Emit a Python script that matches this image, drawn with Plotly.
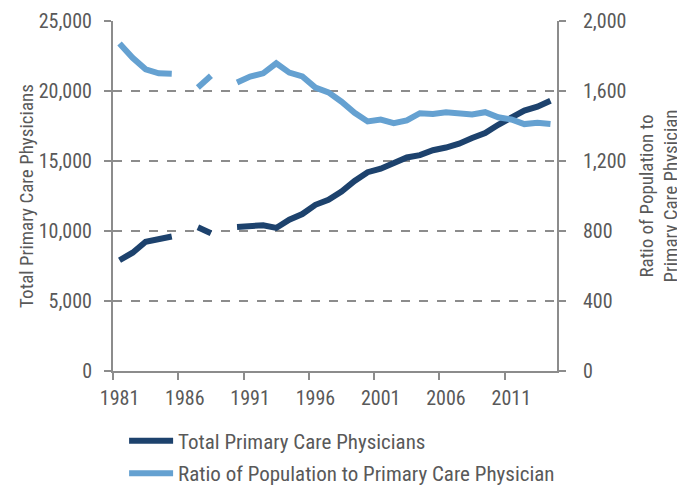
import plotly.graph_objects as go

years = list(range(1981, 2015))
total_pcp = [7910, 8450, 9230, 9470, 9610, None, 10270, 9840, None, 10290,
             10320, 10410, 10220, 10810, 11210, 11870, 12230, 12820, 13580, 14200,
             14450, 14820, 15250, 15420, 15770, 15960, 16240, 16640, 17000, 17590,
             18130, 18600, 18880, 19310]
ratio = [1871, 1790, 1724, 1701, 1698, None, 1620, 1687, None, 1649,
         1683, 1701, 1758, 1705, 1683, 1620, 1592, 1539, 1475, 1426,
         1437, 1416, 1432, 1473, 1469, 1479, 1475, 1466, 1479, 1450,
         1437, 1411, 1418, 1411]
left_ticks = [0, 5000, 10000, 15000, 20000, 25000]
right_ticks = [0, 400, 800, 1200, 1600, 2000]
x_ticks = [1981, 1986, 1991, 1996, 2001, 2006, 2011]

FONT = "Roboto Condensed, Liberation Sans Narrow, sans-serif"
TXT = "#595959"
DARK = "#1d426d"
LIGHT = "#65a1d1"
GRID = "#8c8c8c"

fig = go.Figure()
fig.add_trace(go.Scatter(x=years, y=total_pcp, mode="lines", name="Total Primary Care Physicians",
                         line=dict(color=DARK, width=6), connectgaps=False, legendgroup="a"))
fig.add_trace(go.Scatter(x=years, y=ratio, mode="lines", name="Ratio of Population to Primary Care Physician",
                         line=dict(color=LIGHT, width=6), connectgaps=False, yaxis="y2", legendgroup="b"))

fig.update_layout(
    width=677, height=480,
    margin=dict(l=105, r=128, t=13, b=117, autoexpand=False),
    plot_bgcolor="white", paper_bgcolor="white",
    font=dict(family=FONT, size=20, color=TXT),
    showlegend=True,
    legend=dict(x=0.025, y=-0.142, xanchor="left", yanchor="top", orientation="v",
                font=dict(size=21, color=TXT), tracegroupgap=2, itemwidth=44,
                bgcolor="rgba(0,0,0,0)"),
    xaxis=dict(range=[1980.5, 2014.5], tickmode="array", tickvals=x_ticks,
               ticktext=[str(v) for v in x_ticks], ticks="outside", ticklen=8,
               tickcolor="rgba(0,0,0,0)", showgrid=False, automargin=False,
               ticklabeloverflow="allow",
               showline=True, linecolor=GRID, linewidth=2, zeroline=False,
               tickfont=dict(size=20, color=TXT),
               minor=dict(tick0=1980.5, dtick=5, ticks="outside", ticklen=7,
                          tickcolor=GRID, tickwidth=1.5, showgrid=False)),
    yaxis=dict(range=[0, 25000], tickmode="array", tickvals=left_ticks,
               ticktext=[f"{v:,}" for v in left_ticks], ticks="outside", ticklen=7,
               tickcolor=GRID, tickwidth=1.5, automargin=False, ticklabelstandoff=8,
               ticklabeloverflow="allow",
               showgrid=True, gridcolor=GRID, griddash="dash", gridwidth=2,
               showline=True, linecolor=GRID, linewidth=2, zeroline=False,
               tickfont=dict(size=20, color=TXT),
               title=dict(text="Total Primary Care Physicians", font=dict(size=19, color=TXT), standoff=0)),
    yaxis2=dict(range=[0, 2000], overlaying="y", side="right", tickmode="array",
                tickvals=right_ticks, ticktext=[f"{v:,}" for v in right_ticks],
                ticks="outside", ticklen=7, tickcolor=GRID, tickwidth=1.5, automargin=False,
                ticklabelstandoff=13, ticklabeloverflow="allow",
                showgrid=False, showline=True, linecolor=GRID, linewidth=2, zeroline=False,
                tickfont=dict(size=20, color=TXT),
                title=dict(text="Ratio of Population to<br>Primary Care Physician",
                           font=dict(size=19, color=TXT), standoff=14)),
)

fig.write_html("out.html")
